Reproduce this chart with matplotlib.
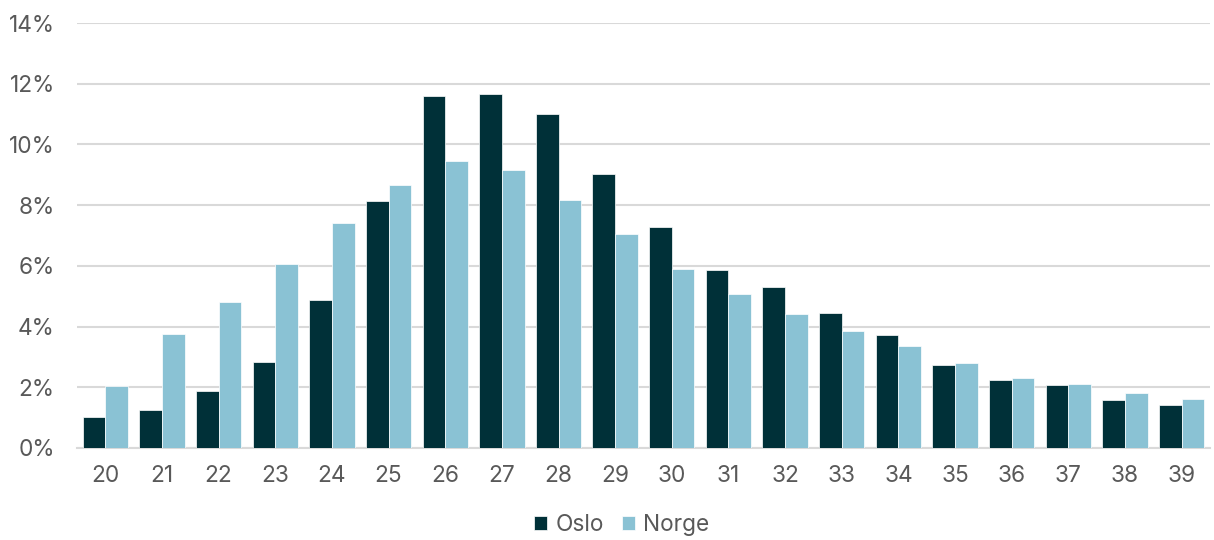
import numpy as np
import matplotlib.pyplot as plt
from matplotlib.ticker import PercentFormatter

# DATA
alder = [str(a) for a in range(20, 40)]
oslo = [1.03, 1.24, 1.88, 2.82, 4.86, 8.14, 11.59, 11.65, 10.99, 9.01,
        7.27, 5.87, 5.30, 4.46, 3.72, 2.75, 2.24, 2.07, 1.57, 1.41]
norge = [2.03, 3.74, 4.82, 6.06, 7.42, 8.66, 9.47, 9.17, 8.18, 7.06,
         5.88, 5.07, 4.42, 3.86, 3.36, 2.79, 2.32, 2.11, 1.80, 1.60]

# STIL
col_oslo = "#003038"
col_norge = "#8AC2D4"
txt_col = "#595959"
grid_col = "#D9D9D9"
fsize = 16.3
plt.rcParams['font.family'] = ['Inter', 'DejaVu Sans']

fig = plt.figure(figsize=(12.14, 5.4), dpi=100)
ax = fig.add_axes([0.0634, 0.1704, 0.9333, 0.787])

x = np.arange(len(alder))
w = 0.4
ax.bar(x - w / 2, oslo, w, color=col_oslo, edgecolor="white", linewidth=0.5,
       label="Oslo", zorder=3)
ax.bar(x + w / 2, norge, w, color=col_norge, edgecolor="white", linewidth=0.5,
       label="Norge", zorder=3)

ax.set_xlim(-0.5, len(alder) - 0.5)
ax.set_ylim(0, 14)
ax.set_yticks(np.arange(0, 15, 2))
ax.yaxis.set_major_formatter(PercentFormatter(decimals=0))
ax.set_xticks(x)
ax.set_xticklabels(alder)
ax.tick_params(axis="both", length=0, labelsize=fsize, colors=txt_col)
ax.tick_params(axis="x", pad=12)
ax.tick_params(axis="y", pad=16)
ax.grid(axis="y", color=grid_col, linewidth=1.5, zorder=0)
for s in ["top", "right", "left"]:
    ax.spines[s].set_visible(False)
ax.spines["bottom"].set_color(grid_col)
ax.spines["bottom"].set_linewidth(1.5)

fig.legend(loc="lower center", bbox_to_anchor=(0.512, -0.03), ncol=2,
           frameon=False, fontsize=fsize, labelcolor=txt_col,
           handlelength=0.6, handleheight=0.6, handletextpad=0.35,
           columnspacing=0.8)

plt.savefig("out.png", dpi=100)
